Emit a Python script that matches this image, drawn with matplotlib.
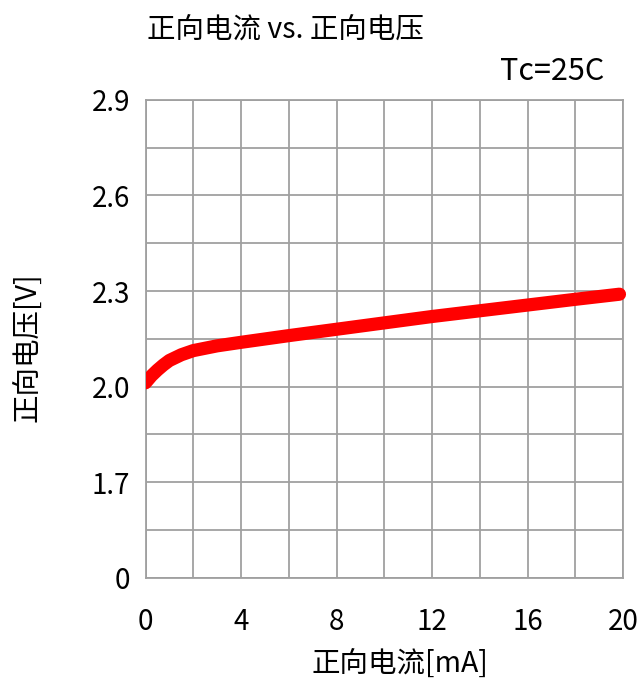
import numpy as np
import matplotlib
matplotlib.use("Agg")
import matplotlib.pyplot as plt
from matplotlib.patches import Rectangle

plt.rcParams['font.family'] = ['Noto Sans CJK SC', 'DejaVu Sans']

# forward current [mA] vs forward voltage [V]
current_ma = [0, 0.25, 0.5, 0.75, 1.0, 1.5, 2.0, 3.0, 4.0, 6.0, 8.0, 10.0, 12.0, 14.0, 16.0, 18.0, 19.85]
voltage_v = [2.012, 2.034, 2.052, 2.068, 2.082, 2.100, 2.113, 2.128, 2.139, 2.160, 2.180, 2.200, 2.220, 2.238, 2.256, 2.274, 2.290]

# y axis has a break: bottom label "0" sits one step below 1.7
y_ticks = [1.4, 1.7, 2.0, 2.3, 2.6, 2.9]
y_labels = ['0', '1.7', '2.0', '2.3', '2.6', '2.9']
x_ticks = [0, 4, 8, 12, 16, 20]

fig = plt.figure(figsize=(6.41, 6.79), dpi=100)
ax = fig.add_axes([0.227, 0.149, 0.745, 0.704])

ax.set_xlim(0, 20)
ax.set_ylim(1.4, 2.9)

grid_c = '#a0a0a0'
for gx in np.arange(0, 20.01, 2):
    ax.axvline(gx, color=grid_c, lw=1.3, zorder=1)
for gy in np.arange(1.4, 2.901, 0.15):
    ax.axhline(gy, color=grid_c, lw=1.3, zorder=1)

line, = ax.plot(current_ma, voltage_v, color='#ff0000', lw=9.5, solid_capstyle='round',
                solid_joinstyle='round', zorder=3)
# cut flat at the left edge, let the round cap show on the right
clip = Rectangle((0, -0.1), 1.1, 1.2, transform=ax.transAxes, facecolor='none', edgecolor='none')
ax.add_patch(clip)
line.set_clip_path(clip)

for s in ax.spines.values():
    s.set_color(grid_c)
    s.set_linewidth(1.3)

ax.set_xticks(x_ticks)
ax.set_xticklabels([str(v) for v in x_ticks])
ax.set_yticks(y_ticks)
ax.set_yticklabels(y_labels)
ax.tick_params(length=0, labelsize=20, colors='black')
ax.tick_params(axis='x', pad=21)
ax.tick_params(axis='y', pad=11)

fig.text(400 / 641, 1 - 665 / 679, '正向电流[mA]', fontsize=20.5, ha='center', va='center')
fig.text(28 / 641, 1 - 347 / 679, '正向电压[V]', fontsize=20.5, ha='center', va='center', rotation=90)

fig.text(147 / 641, 1 - 31 / 679, '正向电流 vs. 正向电压', fontsize=20.5, ha='left', va='center')
fig.text(604 / 641, 1 - 71 / 679, 'Tc=25C', fontsize=22, ha='right', va='center')

fig.savefig('out.png', dpi=100)
